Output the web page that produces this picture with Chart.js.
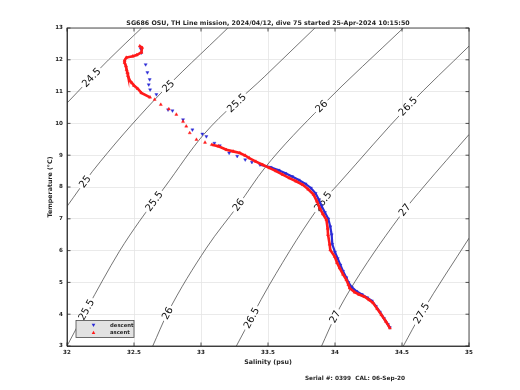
<!DOCTYPE html>
<html>
<head>
<meta charset="utf-8">
<script src="https://cdn.jsdelivr.net/npm/chart.js@4.4.1/dist/chart.umd.min.js"></script>
<style>
  html, body { margin: 0; padding: 0; background: #fff; }
</style>
</head>
<body>
<canvas id="tsChart" width="520" height="390"></canvas>
<script>
// isopicne sigma-theta
const sigmaLevels = ["24.5", "25", "25.5", "26", "26.5", "27", "27.5"];
const contourS = [
  [32.0, 32.31, 32.557],
  [32.0, 32.19, 32.655, 33.2],
  [32.0, 32.145, 32.39, 32.54, 32.73, 33.02, 33.476, 33.85],
  [32.64, 32.75, 33.04, 33.28, 33.476, 33.9, 34.51],
  [33.264, 33.51, 33.91, 34.02, 34.545, 35.0],
  [33.9, 34.0, 34.15, 34.52, 34.66, 35.0],
  [34.51, 34.645, 35.0]
];
const contourT = [
  [10.64, 12.0, 13.0],
  [7.39, 8.49, 10.75, 13.0],
  [3.0, 4.14, 5.97, 6.92, 8.0, 9.65, 11.48, 13.0],
  [3.0, 4.03, 6.08, 7.44, 8.6, 10.54, 13.0],
  [3.0, 4.92, 7.55, 8.07, 10.54, 12.43],
  [3.0, 3.92, 5.03, 7.28, 8.0, 9.65],
  [3.0, 4.03, 6.39]
];
// temperatura a cui stanno le etichette di ogni isopicna
const labelT = [
  [11.44],
  [8.17, 11.17],
  [4.14, 7.55, 10.64],
  [4.03, 7.44, 10.54],
  [3.88, 7.55, 10.54],
  [3.92, 7.28],
  [4.03]
];

// discesa (superficie -> fondo)
const descentS = [32.55, 32.555, 32.587, 32.6, 32.617, 32.61, 32.62, 32.667, 32.754, 32.787, 32.866, 32.936,
  33.01, 33.04, 33.1, 33.14, 33.21, 33.27, 33.33, 33.38, 33.44, 33.52, 33.58, 33.63, 33.68, 33.73, 33.78,
  33.82, 33.855, 33.88, 33.9, 33.925, 33.95, 33.965, 33.975, 33.98, 34.0, 34.02, 34.04, 34.06, 34.085,
  34.1, 34.125, 34.16, 34.2, 34.24, 34.275, 34.305, 34.335, 34.365, 34.395, 34.41];
const descentT = [12.35, 12.22, 11.85, 11.6, 11.38, 11.22, 11.06, 10.91, 10.43, 10.4, 10.12, 9.8,
  9.67, 9.59, 9.38, 9.3, 9.07, 8.97, 8.86, 8.78, 8.7, 8.62, 8.53, 8.43, 8.33, 8.22, 8.1,
  7.97, 7.8, 7.6, 7.4, 7.2, 7.0, 6.75, 6.5, 6.2, 5.95, 5.75, 5.55, 5.35, 5.15,
  5.0, 4.85, 4.72, 4.62, 4.52, 4.42, 4.25, 4.07, 3.87, 3.68, 3.58];

// risalita (superficie -> fondo)
const ascentS = [32.543, 32.56, 32.555, 32.52, 32.49, 32.443, 32.43, 32.43, 32.44, 32.445, 32.45, 32.455,
  32.468, 32.485, 32.5, 32.528, 32.555, 32.62, 32.654, 32.7, 32.76, 32.816, 32.866, 32.89, 32.916, 32.966,
  33.03, 33.08, 33.13, 33.19, 33.24, 33.29, 33.33, 33.36, 33.41, 33.46, 33.51, 33.56, 33.61, 33.66, 33.71,
  33.76, 33.8, 33.84, 33.865, 33.886, 33.91, 33.936, 33.945, 33.948, 33.96, 33.965, 33.998, 34.015, 34.035,
  34.06, 34.085, 34.1, 34.11, 34.147, 34.18, 34.22, 34.255, 34.285, 34.315, 34.346, 34.38, 34.41];
const ascentT = [12.43, 12.38, 12.23, 12.15, 12.11, 12.07, 11.98, 11.91, 11.8, 11.69, 11.6, 11.5,
  11.35, 11.27, 11.19, 11.09, 10.96, 10.82, 10.75, 10.59, 10.45, 10.28, 10.06, 9.91, 9.7, 9.49,
  9.4, 9.33, 9.28, 9.17, 9.12, 9.07, 8.99, 8.91, 8.8, 8.7, 8.6, 8.5, 8.39, 8.28, 8.18,
  8.07, 7.93, 7.76, 7.55, 7.34, 7.15, 6.97, 6.7, 6.5, 6.2, 6.02, 5.81, 5.62, 5.45,
  5.25, 5.08, 4.93, 4.82, 4.69, 4.62, 4.55, 4.45, 4.35, 4.17, 3.98, 3.77, 3.56];

const xTicks = [32, 32.5, 33, 33.5, 34, 34.5, 35];
const yTicks = [3, 4, 5, 6, 7, 8, 9, 10, 11, 12, 13];

const titolo = "SG686 OSU, TH Line mission, 2024/04/12, dive 75 started 25-Apr-2024 10:15:50";
const seriale = "Serial #: 0399  CAL: 06-Sep-20";

const BLU = "#2b2bd6";
const ROSSO = "#ff1a1a";
const TESTO = "#262626";

function punti(xs, ys) {
  return xs.map((x, i) => ({ x: x, y: ys[i] }));
}

// S su una isopicna a una data T (interpolazione fra i punti letti)
function sAlT(k, t) {
  const S = contourS[k], T = contourT[k];
  for (let i = 0; i < T.length - 1; i++) {
    if (t >= T[i] && t <= T[i + 1]) {
      const f = (t - T[i]) / (T[i + 1] - T[i]);
      return S[i] + f * (S[i + 1] - S[i]);
    }
  }
  return S[S.length - 1];
}

const datasets = [];
sigmaLevels.forEach((lev, k) => {
  datasets.push({
    label: "sigma " + lev,
    data: punti(contourS[k], contourT[k]),
    showLine: true,
    borderColor: "#3a3a3a",
    borderWidth: 0.7,
    pointRadius: 0,
    cubicInterpolationMode: "monotone",
    order: 2
  });
});

datasets.push({
  label: "descent",
  data: punti(descentS, descentT),
  showLine: true,
  borderColor: BLU,
  borderWidth: 2.2,
  segment: {
    borderColor: (ctx) => (ctx.p0.parsed.y < 8.75 ? BLU : "transparent")
  },
  backgroundColor: BLU,
  pointBorderColor: BLU,
  pointStyle: "triangle",
  rotation: 180,
  pointRadius: 1.8,
  pointBorderWidth: 0.4,
  order: 1
});

datasets.push({
  label: "ascent",
  data: punti(ascentS, ascentT),
  showLine: true,
  borderColor: ROSSO,
  borderWidth: 2.6,
  segment: {
    borderColor: (ctx) => {
      const t = ctx.p0.parsed.y;
      return (t < 9.35 || t > 10.9) ? ROSSO : "transparent";
    }
  },
  backgroundColor: ROSSO,
  pointBorderColor: ROSSO,
  pointStyle: "triangle",
  pointRadius: 1.8,
  pointBorderWidth: 0.4,
  order: 0
});

// etichette delle isopicne, disegnate prima dei dati
const etichettePlugin = {
  id: "etichette",
  beforeDatasetDraw(chart, args) {
    if (chart.data.datasets[args.index].label !== "descent") return;
    const ctx = chart.ctx;
    const xs = chart.scales.x, ys = chart.scales.y;
    ctx.save();
    ctx.font = '10px "DejaVu Sans"';
    ctx.textAlign = "center";
    ctx.textBaseline = "middle";
    labelT.forEach((lista, k) => {
      lista.forEach((t) => {
        const s = sAlT(k, t);
        const px = xs.getPixelForValue(s), py = ys.getPixelForValue(t);
        const p1x = xs.getPixelForValue(sAlT(k, t - 0.3)), p1y = ys.getPixelForValue(t - 0.3);
        const p2x = xs.getPixelForValue(sAlT(k, t + 0.3)), p2y = ys.getPixelForValue(t + 0.3);
        const ang = Math.atan2(p2y - p1y, p2x - p1x);
        const w = ctx.measureText(sigmaLevels[k]).width;
        ctx.save();
        ctx.translate(px, py);
        ctx.rotate(ang);
        ctx.fillStyle = "#fff";
        ctx.fillRect(-w / 2 - 2, -4, w + 4, 8);
        ctx.fillStyle = "#111";
        ctx.fillText(sigmaLevels[k], 0, 0.5);
        ctx.restore();
      });
    });
    ctx.restore();
  },
  afterDraw(chart) {
    const ctx = chart.ctx;
    const a = chart.chartArea;
    const xs = chart.scales.x, ys = chart.scales.y;
    ctx.save();
    // riquadro e tacche interne
    ctx.strokeStyle = TESTO;
    ctx.lineWidth = 0.8;
    ctx.strokeRect(a.left, a.top, a.right - a.left, a.bottom - a.top);
    ctx.beginPath();
    xTicks.forEach((v) => {
      const x = xs.getPixelForValue(v);
      ctx.moveTo(x, a.bottom); ctx.lineTo(x, a.bottom - 3.5);
      ctx.moveTo(x, a.top); ctx.lineTo(x, a.top + 3.5);
    });
    yTicks.forEach((v) => {
      const y = ys.getPixelForValue(v);
      ctx.moveTo(a.left, y); ctx.lineTo(a.left + 3.5, y);
      ctx.moveTo(a.right, y); ctx.lineTo(a.right - 3.5, y);
    });
    ctx.stroke();

    // testi
    ctx.fillStyle = TESTO;
    ctx.textAlign = "center";
    ctx.textBaseline = "middle";
    ctx.font = 'bold 6.3px "DejaVu Sans"';
    ctx.fillText(titolo, (a.left + a.right) / 2, 23.5);
    ctx.fillText("Salinity (psu)", (a.left + a.right) / 2, 362);
    ctx.font = 'bold 5.8px "DejaVu Sans"';
    ctx.fillText(seriale, 355, 378.5);
    ctx.save();
    ctx.translate(50, (a.top + a.bottom) / 2);
    ctx.rotate(-Math.PI / 2);
    ctx.font = 'bold 6.3px "DejaVu Sans"';
    ctx.fillText("Temperature (\u00b0C)", 0, 0);
    ctx.restore();

    // legenda
    const lx = 76, ly = 320.5, lw = 58, lh = 17;
    ctx.fillStyle = "#e2e2e2";
    ctx.fillRect(lx, ly, lw, lh);
    ctx.strokeStyle = "#4a4a4a";
    ctx.lineWidth = 0.8;
    ctx.strokeRect(lx, ly, lw, lh);
    const voci = [["descent", BLU, true], ["ascent", ROSSO, false]];
    voci.forEach((v, i) => {
      const yy = ly + 4.8 + i * 7.2;
      const r = 1.8;
      ctx.fillStyle = v[1];
      ctx.beginPath();
      if (v[2]) {
        ctx.moveTo(93.5 - r, yy - r * 0.8); ctx.lineTo(93.5 + r, yy - r * 0.8); ctx.lineTo(93.5, yy + r);
      } else {
        ctx.moveTo(93.5 - r, yy + r * 0.8); ctx.lineTo(93.5 + r, yy + r * 0.8); ctx.lineTo(93.5, yy - r);
      }
      ctx.closePath();
      ctx.fill();
      ctx.fillStyle = TESTO;
      ctx.textAlign = "left";
      ctx.font = 'bold 5.3px "DejaVu Sans"';
      ctx.fillText(v[0], 110, yy);
    });
    ctx.restore();
  }
};

const fontTacche = { family: "DejaVu Sans", size: 5.6, weight: "bold" };

new Chart(document.getElementById("tsChart").getContext("2d"), {
  type: "scatter",
  data: { datasets: datasets },
  options: {
    responsive: false,
    animation: false,
    devicePixelRatio: 1,
    layout: { padding: { left: 47, right: 51, top: 28, bottom: 30 } },
    plugins: {
      legend: { display: false },
      tooltip: { enabled: false },
      title: { display: false }
    },
    scales: {
      x: {
        type: "linear",
        min: 32,
        max: 35,
        afterBuildTicks: (s) => { s.ticks = xTicks.map((v) => ({ value: v })); },
        afterFit: (s) => { s.height = 14; },
        ticks: { font: fontTacche, color: TESTO, padding: 3, maxRotation: 0, callback: (v) => String(v) },
        grid: { color: "#e4e4e4", lineWidth: 0.8, drawTicks: false },
        border: { color: TESTO, width: 0.8 }
      },
      y: {
        type: "linear",
        min: 3,
        max: 13,
        afterBuildTicks: (s) => { s.ticks = yTicks.map((v) => ({ value: v })); },
        afterFit: (s) => { s.width = 20; },
        ticks: { font: fontTacche, color: TESTO, padding: 4, callback: (v) => String(v) },
        grid: { color: "#e4e4e4", lineWidth: 0.8, drawTicks: false },
        border: { color: TESTO, width: 0.8 }
      }
    }
  },
  plugins: [etichettePlugin]
});
</script>
</body>
</html>
